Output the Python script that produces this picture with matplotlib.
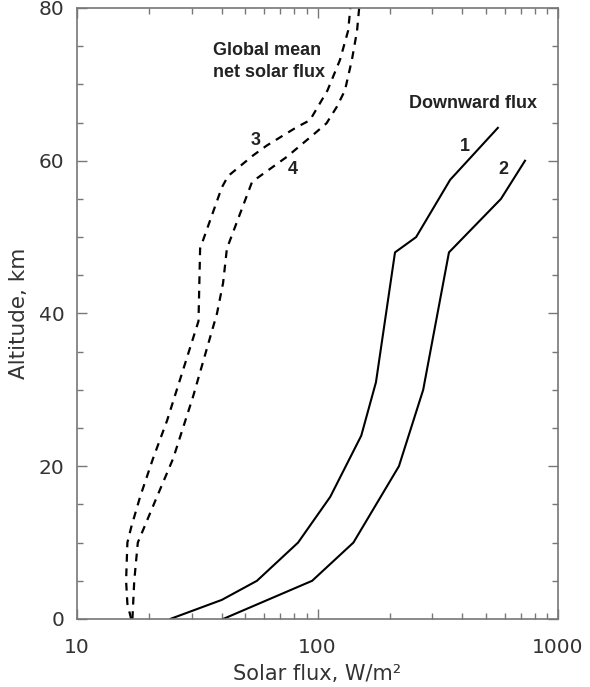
import matplotlib.pyplot as plt
from matplotlib.ticker import LogLocator, FixedLocator, NullFormatter

# curve 1 - downward flux
alt1 = [0, 2.5, 5, 10, 16, 24, 31, 48, 50, 57.5, 64.3]
flux1 = [24.4, 40, 56, 83, 113, 152, 175, 210, 257, 356, 562]

# curve 2 - downward flux
alt2 = [0, 5, 10, 20, 30, 48, 55, 60]
flux2 = [40.5, 95, 141, 218, 275, 352, 579, 729]

# curve 3 - global mean net solar flux
alt3 = [0, 2, 5, 10, 12, 16, 21, 26, 39, 48.5, 56.5, 58, 60.7, 62, 64.4, 65.3, 69.2, 73.2, 77, 80]
flux3 = [16.8, 16.2, 16, 16.2, 16.8, 18.3, 20.7, 23.7, 32, 32.5, 40, 42.5, 54, 61.6, 82, 93, 110, 124, 134, 137]

# curve 4 - global mean net solar flux
alt4 = [0, 5, 10, 16, 21, 29, 40, 44, 48.5, 57.2, 57.7, 60.5, 63.6, 64.9, 67, 69.2, 73.2, 77, 80]
flux4 = [17.0, 17.3, 17.9, 21.5, 25.1, 30.3, 38.2, 40.5, 42, 53.4, 56, 74.5, 97.6, 109, 120, 130, 139, 146, 149]

txt = '#333333'
fig = plt.figure(figsize=(5.9, 6.87), dpi=100)
ax = fig.add_axes([0.1305, 0.099, 0.8153, 0.8894])

ax.plot(flux1, alt1, color='black', lw=1.5)
ax.plot(flux2, alt2, color='black', lw=1.5)
ax.plot(flux3, alt3, color='black', lw=1.6, dashes=(3.5, 3))
ax.plot(flux4, alt4, color='black', lw=1.6, dashes=(3.5, 3))

ax.set_xscale('log')
ax.set_xlim(10, 1000)
ax.set_ylim(0, 80)
ax.xaxis.set_major_locator(FixedLocator([10, 100, 1000]))
ax.xaxis.set_minor_locator(LogLocator(base=10, subs=range(2, 10)))
ax.xaxis.set_minor_formatter(NullFormatter())
ax.set_xticklabels(['10', '100', '1000'])
ax.set_yticks([0, 20, 40, 60, 80])
ax.set_yticks(range(0, 81, 5), minor=True)

ax.tick_params(which='both', direction='in', top=True, right=True,
               colors='#777777', labelcolor=txt, labelsize=14.5, width=1)
ax.tick_params(which='major', length=7.5)
ax.tick_params(axis='x', which='major', pad=14)
ax.tick_params(axis='y', which='major', pad=9)
ax.tick_params(which='minor', length=4)
for s in ax.spines.values():
    s.set_color('#777777')
    s.set_linewidth(1.2)

ax.set_xlabel('Solar flux, W/m²', fontsize=15, color=txt, labelpad=5)
ax.set_ylabel('Altitude, km', fontsize=15.5, color=txt, labelpad=7)

bold = dict(fontsize=13, fontweight='bold', color='#222222', family='Liberation Sans')
ax.text(36.8, 73.0, 'Global mean\nnet solar flux', ha='left', va='center',
        linespacing=1.4, **bold)
ax.text(240, 67.5, 'Downward flux', ha='left', va='center', **bold)
ax.text(410, 61.8, '1', ha='center', va='center', **bold)
ax.text(590, 58.8, '2', ha='center', va='center', **bold)
ax.text(55.5, 62.7, '3', ha='center', va='center', **bold)
ax.text(79, 58.8, '4', ha='center', va='center', **bold)

fig.savefig('out.png', dpi=100, facecolor='white')
